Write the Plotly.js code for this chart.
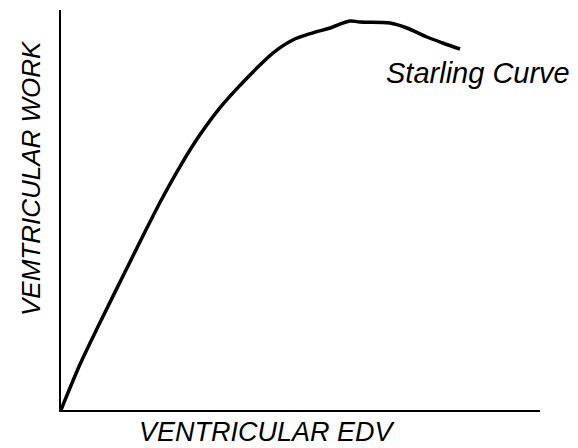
<!DOCTYPE html>
<html>
<head>
<meta charset="utf-8">
<script src="https://cdn.plot.ly/plotly-3.0.1.min.js"></script>
<style>html,body{margin:0;padding:0;background:#fff;}#chart{width:578px;height:448px;}</style>
</head>
<body>
<div id="chart"></div>
<script>
// End-diastolic volume (arbitrary units, 0-100)
const edv = [0, 4, 8.2, 12.4, 16.6, 20.8, 25.3, 29, 33, 37.4, 41, 44.3, 48.4, 52.6, 56.2, 60.3, 62.4, 68.7, 72.2, 76.4, 79.7, 83.3];
// Ventricular work (arbitrary units, 0-100)
const work = [0, 11.5, 22, 32.2, 42.3, 52.2, 61.8, 68.8, 75.3, 81.2, 85.6, 89.3, 92.5, 94.3, 95.5, 97.25, 97, 96.75, 95.5, 93.25, 91.75, 90.25];
const curveLabel = "Starling Curve";
const xTitle = "VENTRICULAR EDV";
const yTitle = "VEMTRICULAR WORK";

const font = {family: "Liberation Sans, Arial, sans-serif", color: "#000", style: "italic"};

const trace = {
  x: edv, y: work, type: "scatter", mode: "lines",
  line: {color: "#000", width: 3.5, shape: "spline", smoothing: 1},
  hoverinfo: "skip", showlegend: false
};

const layout = {
  width: 578, height: 448,
  margin: {l: 61, r: 38, t: 10, b: 38},
  paper_bgcolor: "#fff", plot_bgcolor: "#fff",
  xaxis: {range: [0, 100], showgrid: false, zeroline: false, showticklabels: false, ticks: "",
          showline: true, linecolor: "#000", linewidth: 2, fixedrange: true},
  yaxis: {range: [0, 100], showgrid: false, zeroline: false, showticklabels: false, ticks: "",
          showline: true, linecolor: "#000", linewidth: 2, fixedrange: true},
  annotations: [
    {text: curveLabel, xref: "x", yref: "y", x: 67.4, y: 84.3, xanchor: "left", yanchor: "middle",
     showarrow: false, font: Object.assign({}, font, {size: 29})},
    {text: xTitle, xref: "paper", yref: "paper", x: 0.432, y: -0.054, xanchor: "center", yanchor: "middle",
     showarrow: false, font: Object.assign({}, font, {size: 27})},
    {text: yTitle, xref: "paper", yref: "paper", x: -0.0626, y: 0.58, xanchor: "center", yanchor: "middle",
     textangle: -90, showarrow: false, font: Object.assign({}, font, {size: 26})}
  ]
};

Plotly.newPlot("chart", [trace], layout, {displayModeBar: false, staticPlot: true});
</script>
</body>
</html>
